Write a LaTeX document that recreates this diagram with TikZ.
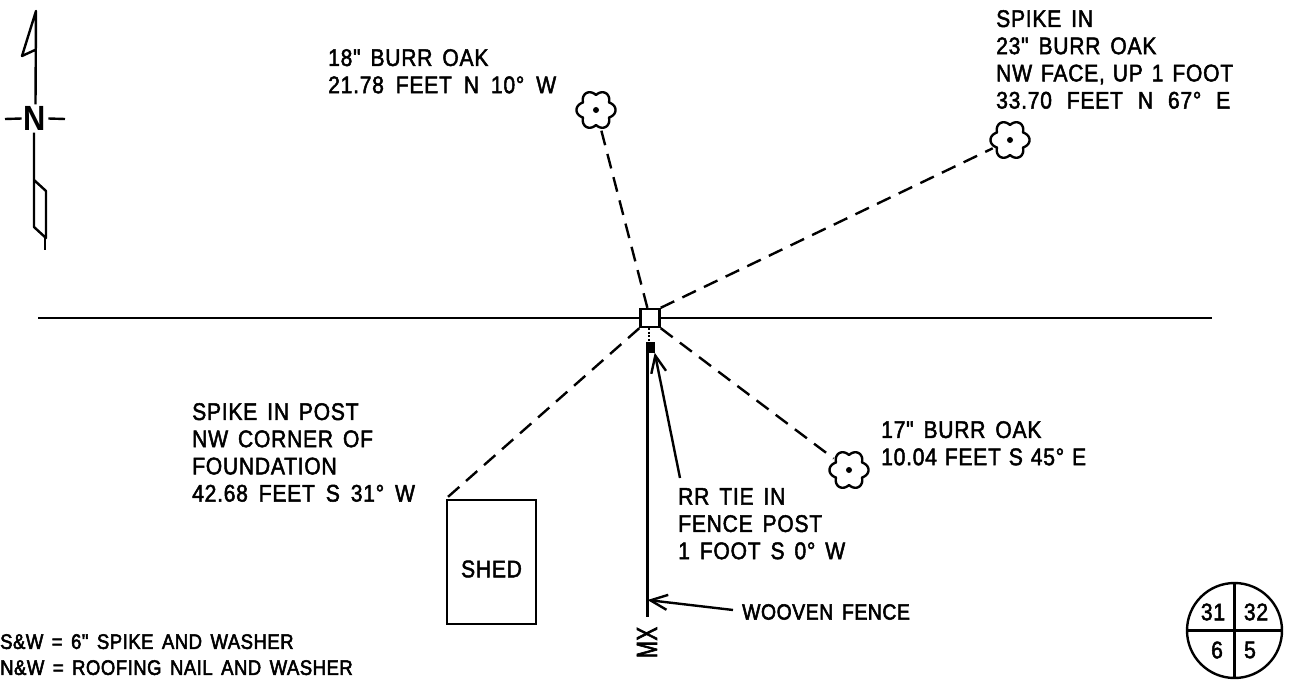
\documentclass[tikz,border=0pt]{standalone}
\usepackage{fontspec}
\setmainfont{Liberation Sans}
\newfontfamily\labelfont[FakeStretch=0.88,FakeBold=2,LetterSpace=3,WordSpace=1.5]{Liberation Sans}
\newfontfamily\legendfont[FakeStretch=0.88,FakeBold=2.5,LetterSpace=2.5,WordSpace=1.5]{Liberation Sans}
\usetikzlibrary{arrows.meta}
\tikzset{
  ink/.style={line width=2.4pt,black},
  tie/.style={ink,dash pattern=on 15pt off 9pt},
  lbl/.style={anchor=north west,inner sep=0pt,align=left,font=\labelfont\fontsize{24}{27.2}\selectfont},
  leg/.style={anchor=north west,inner sep=0pt,align=left,font=\legendfont\fontsize{22}{26}\selectfont},
  smallleg/.style={anchor=north west,inner sep=0pt,align=left,font=\legendfont\fontsize{21}{26}\selectfont},
  num/.style={inner sep=0pt,font=\labelfont\fontsize{24}{27}\selectfont},
  oaknode/.style={circle,inner sep=0pt,minimum size=38pt},
  barb/.style={-{Straight Barb[length=17pt,width=15pt,line width=2.4pt]}},
  pics/oak/.style={code={
    \draw[ink,line join=round] plot[domain=0:360,samples=145,smooth] (\x:{15+4.5*abs(cos(3*\x))}) -- cycle;
    \fill (0,0) circle (3pt);
  }}
}
\newcommand\gapw[1]{\hspace{#1pt}}
\begin{document}
\begin{tikzpicture}[x=1pt,y=-1pt]
\useasboundingbox (0,0) rectangle (1289,682);
\clip (0,0) rectangle (1289,682);
% north arrow
\node[inner sep=0pt,font=\fontsize{35}{35}\bfseries\selectfont] (north) at (35,118.5) {\scalebox{0.88}[1]{N}};
\coordinate (ntip) at (36,11);
\coordinate (nbar) at (35,50);
\coordinate (nflag) at (22,56);
\coordinate (nbelow) at (34,180);
\draw[ink,line join=round] (north.north) ++(0.5,-2) -- (ntip) -- (nflag) -- (nbar);
\draw[ink,line join=round] (north.south) ++(-1,2) -- (nbelow) -- (46,191) -- (46,238) -- (34,227) -- (nbelow);
\draw[ink] (45,236) -- (45,250);
\draw[ink] (north.west) ++(-2,0) -- (5,119);
\draw[ink] (north.east) ++(2,0) -- (65,119);
% base line
\coordinate (lineW) at (38,318);
\coordinate (lineE) at (1212,318);
\draw[ink] (lineW) -- (lineE);
% monument
\node[draw,ink,fill=white,minimum width=19pt,minimum height=18pt,inner sep=0pt] (mon) at (650,318) {};
% trees
\node[oaknode] (t1) at (596,110) {}; \pic at (t1) {oak};
\node[oaknode] (t2) at (1010,140) {}; \pic at (t2) {oak};
\node[oaknode] (t3) at (849,470) {}; \pic at (t3) {oak};
% shed
\node[draw,ink,minimum width=89pt,minimum height=124pt,inner sep=0pt] (shed) at (491.5,562) {};
\node[num] (shedlabel) at (491.5,569) {SHED};
% ties
\draw[tie] (mon) -- (t1);
\draw[tie] (mon.north east) -- (t2);
\draw[tie] (mon.south east) -- (t3);
\draw[tie] (mon.south west) -- (shed.north west);
% fence and tie
\node[fill=black,minimum width=9pt,minimum height=11pt,inner sep=0pt] (rr) at (650,347) {};
\draw[line width=2.1pt,dash pattern=on 2pt off 1.5pt] (mon.south) ++(-1,0) -- (rr.north -| 649,0);
\coordinate (fenceEnd) at (647.5,617);
\coordinate (fenceMark) at (647.5,600);
\draw[line width=2.1pt] (rr.south -| fenceEnd) -- (fenceEnd);
% labels
\node[lbl] (a) at (328,49) {18" BURR OAK\\21.78 \gapw{2}FEET \gapw{2}N \gapw{2}10° \gapw{2}W};
\node[lbl] (b) at (996,10) {SPIKE IN\\23" BURR OAK\\NW \gapw{-1}FACE, \gapw{-2}UP \gapw{-1}1 \gapw{-1}FOOT\\33.70 \gapw{5}FEET \gapw{5}N \gapw{5}67° \gapw{5}E};
\node[lbl] (c) at (192,403) {SPIKE IN POST\\NW CORNER OF\\FOUNDATION\\42.68 \gapw{1}FEET \gapw{1}S \gapw{1}31° \gapw{1}W};
\node[lbl] (d) at (881,421) {17" BURR OAK\\10.04 \gapw{-2}FEET \gapw{-2}S \gapw{-2}45° \gapw{-2}E};
\node[lbl] (e) at (678,488) {RR TIE IN\\FENCE POST\\1 FOOT S 0° W};
\node[leg] (f) at (742,604) {WOOVEN FENCE};
\node[smallleg] (g) at (0,634) {S\&W = 6" SPIKE AND WASHER\\N\&W = ROOFING NAIL AND WASHER};
\node[inner sep=0pt,rotate=90,font=\legendfont\fontsize{29}{29}\selectfont] (mx) at (647,642.5) {\scalebox{0.8}[1]{MX}};
% arrows
\draw[ink,barb] (e.north west) ++(2,-10) -- (rr.south east);
\draw[ink,barb] (f.west) ++(-9,-2) -- (fenceMark);
% section circle
\node[draw,ink,circle,minimum size=95pt,inner sep=0pt] (sec) at (1234.5,630.5) {};
\draw[ink] (sec.north) -- (sec.south);
\draw[ink] (sec.west) -- (sec.east);
\node[num] (n31) at (1213,612) {31};
\node[num] (n32) at (1256,612) {32};
\node[num] (n6) at (1217,650) {6};
\node[num] (n5) at (1250,650) {5};
\end{tikzpicture}
\end{document}
